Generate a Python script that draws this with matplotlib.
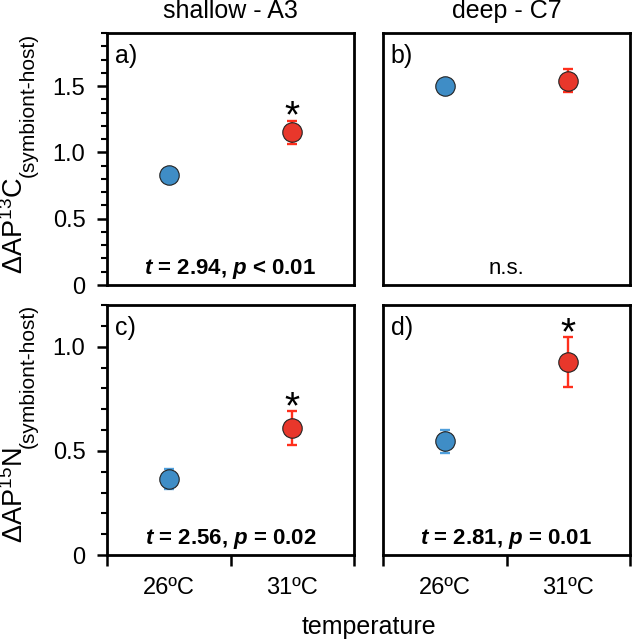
import numpy as np
import matplotlib
matplotlib.use('Agg')
import matplotlib.pyplot as plt
from matplotlib.ticker import MultipleLocator, FixedLocator, FuncFormatter

plt.rcParams['font.family'] = ['Liberation Sans', 'DejaVu Sans']
plt.rcParams['mathtext.fontset'] = 'custom'
plt.rcParams['mathtext.rm'] = 'Liberation Sans'
plt.rcParams['mathtext.it'] = 'Liberation Sans:italic'
plt.rcParams['mathtext.bf'] = 'Liberation Sans:bold'
plt.rcParams['mathtext.bfit'] = 'Liberation Sans:italic:bold'

# data
temps = ['26ºC', '31ºC']
panel_labels = ['a)', 'b)', 'c)', 'd)']
col_titles = ['shallow - A3', 'deep - C7']
carbon_mean = [[0.83, 1.15], [1.50, 1.54]]
carbon_err = [[0.03, 0.09], [0.02, 0.085]]
nitrogen_mean = [[0.365, 0.61], [0.545, 0.925]]
nitrogen_err = [[0.05, 0.08], [0.055, 0.12]]
carbon_signif = [True, False]  # asterisk on 31ºC
nitrogen_signif = [True, True]
stats_text = ['$\\mathbfit{t}$ = 2.94, $\\mathbfit{p}$ < 0.01', 'n.s.',
              '$\\mathbfit{t}$ = 2.56, $\\mathbfit{p}$ = 0.02',
              '$\\mathbfit{t}$ = 2.81, $\\mathbfit{p}$ = 0.01']
stats_bold = [True, False, True, True]
ylab_main = ['ΔAP$^{13}$C', 'ΔAP$^{15}$N']
ylab_sub = '(symbiont-host)'

dot_colors = ['#3f8dc6', '#e8372b']
err_colors = ['#4f9fdc', '#ff2f1c']

fig = plt.figure(figsize=(6.33, 6.39), dpi=100)
lefts = [107 / 633, 383 / 633]
w = 247 / 633
rows = [(1 - 285 / 639, 252 / 639), (1 - 555 / 639, 250 / 639)]

axes = []
for r in range(2):
    for c in range(2):
        ax = fig.add_axes([lefts[c], rows[r][0], w, rows[r][1]])
        axes.append(ax)

fmt = FuncFormatter(lambda v, p: '0' if abs(v) < 1e-9 else '%.1f' % v)

for i, ax in enumerate(axes):
    r, c = divmod(i, 2)
    means = carbon_mean[c] if r == 0 else nitrogen_mean[c]
    errs = carbon_err[c] if r == 0 else nitrogen_err[c]
    star = carbon_signif[c] if r == 0 else nitrogen_signif[c]
    for k in range(2):
        ax.errorbar(k + 0.5, means[k], yerr=errs[k], fmt='none', ecolor=err_colors[k],
                    elinewidth=1.7, capsize=3.3, capthick=1.7, zorder=2)
        ax.plot(k + 0.5, means[k], 'o', ms=14, mfc=dot_colors[k], mec='#222222',
                mew=0.8, zorder=3)
    if star:
        ax.annotate('*', (1.5, means[1] + errs[1]), xytext=(0, -5),
                    textcoords='offset points', ha='center', va='baseline', fontsize=28)
    ax.set_xlim(0, 2)
    ax.set_ylim(0, 1.9 if r == 0 else 1.2)
    for s in ax.spines.values():
        s.set_linewidth(2.0)
    ax.text(0.032, 0.955, panel_labels[i], transform=ax.transAxes, ha='left', va='top',
            fontsize=18)
    ax.text(0.5, 0.044, stats_text[i], transform=ax.transAxes, ha='center', va='baseline',
            fontsize=16, fontweight='bold' if stats_bold[i] else 'normal')

    if c == 0:
        ax.yaxis.set_major_locator(MultipleLocator(0.5))
        ax.yaxis.set_minor_locator(MultipleLocator(0.1))
        ax.yaxis.set_major_formatter(fmt)
        ax.tick_params(axis='y', which='major', direction='out', length=7, width=1.8,
                       labelsize=17, pad=8.5)
        ax.tick_params(axis='y', which='minor', direction='out', length=4.5, width=1.5)
    else:
        ax.tick_params(axis='y', which='both', left=False, labelleft=False)

    if r == 1:
        ax.xaxis.set_major_locator(FixedLocator([0, 1, 2]))
        ax.xaxis.set_minor_locator(FixedLocator([0.5, 1.5]))
        ax.xaxis.set_major_formatter(FuncFormatter(lambda v, p: ''))
        ax.set_xticklabels(temps, minor=True)
        ax.tick_params(axis='x', which='major', direction='out', length=8, width=1.8)
        ax.tick_params(axis='x', which='minor', length=0, labelsize=17, pad=16)
    else:
        ax.tick_params(axis='x', which='both', bottom=False, labelbottom=False)
        ax.set_title(col_titles[c], fontsize=18, pad=11)

# y labels: main part and subscript drawn as two rotated texts
for r in range(2):
    ax = axes[2 * r]
    ax.text(-0.34, 0.43, ylab_main[r], transform=ax.transAxes, rotation=90,
            rotation_mode='anchor', ha='right', va='baseline', fontsize=19.5)
    ax.text(-0.295, 0.43, ylab_sub, transform=ax.transAxes, rotation=90,
            rotation_mode='anchor', ha='left', va='baseline', fontsize=15)

fig.text(369 / 633, 1 - 627 / 639, 'temperature', ha='center', va='center', fontsize=18)

fig.savefig('out.png', dpi=100)
